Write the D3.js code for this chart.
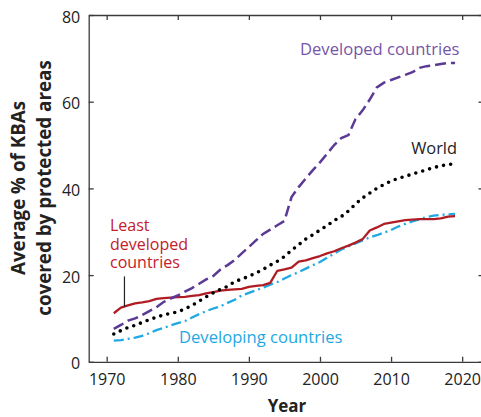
<!DOCTYPE html>
<html>
<head>
<meta charset="utf-8">
<script src="https://cdn.jsdelivr.net/npm/d3@7"></script>
<style>
  html, body { margin: 0; padding: 0; background: #fff; }
  svg { display: block; font-family: "Open Sans", sans-serif; }
</style>
</head>
<body>
<svg id="chart" width="481" height="417"></svg>
<script>
const years = d3.range(1971, 2020);

const developed = [7.6, 8.5, 9.5, 10.0, 10.8, 11.7, 12.6, 13.8, 14.6, 15.3,
  16.2, 17.0, 18.0, 19.0, 19.8, 21.3, 22.3, 23.5, 25.0, 26.5,
  28.0, 29.5, 30.5, 31.5, 32.5, 38.0, 40.3, 42.3, 44.2, 46.0,
  48.0, 50.0, 51.6, 52.3, 56.0, 58.0, 60.5, 63.3, 64.4, 65.0,
  65.6, 66.2, 66.8, 67.8, 68.2, 68.4, 68.7, 68.9, 68.9];

const world = [6.4, 7.2, 7.9, 8.4, 9.1, 9.7, 10.3, 10.8, 11.2, 11.5,
  12.2, 13.0, 14.0, 15.0, 15.9, 16.7, 17.4, 18.5, 19.1, 19.7,
  20.5, 21.3, 22.3, 23.2, 24.3, 25.7, 27.0, 28.3, 29.3, 30.4,
  31.4, 32.6, 33.5, 34.8, 36.4, 37.8, 38.9, 40.0, 40.9, 41.7,
  42.3, 42.8, 43.3, 43.8, 44.3, 44.8, 45.2, 45.5, 45.7];

const leastDeveloped = [11.2, 12.5, 13.0, 13.5, 13.7, 14.0, 14.5, 14.7, 14.8, 14.9,
  15.0, 15.2, 15.4, 15.8, 16.1, 16.4, 16.6, 16.7, 16.8, 17.3,
  17.5, 17.7, 18.2, 21.0, 21.3, 21.7, 23.1, 23.4, 23.9, 24.4,
  25.0, 25.5, 26.2, 26.8, 27.5, 28.3, 30.3, 31.0, 31.8, 32.1,
  32.4, 32.7, 32.8, 32.9, 32.9, 32.9, 33.1, 33.5, 33.6];

const developing = [4.9, 5.0, 5.3, 5.6, 6.0, 6.6, 7.3, 7.8, 8.4, 8.9,
  9.4, 10.2, 11.0, 11.7, 12.3, 12.8, 13.6, 14.3, 15.3, 15.9,
  16.5, 17.1, 17.8, 18.4, 19.2, 20.0, 20.7, 21.5, 22.3, 23.0,
  24.0, 25.0, 25.9, 26.6, 27.3, 28.0, 28.7, 29.2, 29.8, 30.4,
  31.2, 31.8, 32.4, 32.9, 33.4, 33.7, 33.9, 34.0, 34.1];

const xTicks = [1970, 1980, 1990, 2000, 2010, 2020];
const yTicks = [0, 20, 40, 60, 80];

const svg = d3.select("#chart");
const plotLeft = 88.7, plotRight = 483.5, plotTop = 15, plotBottom = 361.8;

const x = d3.scaleLinear().domain([1967.47, 2023]).range([plotLeft, plotRight]);
const y = d3.scaleLinear().domain([0, 80]).range([plotBottom, plotTop]);

const axisColor = "#3a3a3a";

function styleAxis(g) {
  g.selectAll("path.domain").attr("stroke", axisColor).attr("stroke-width", 1.3);
  g.selectAll(".tick line").attr("stroke", axisColor).attr("stroke-width", 1.3);
  g.selectAll(".tick text").attr("fill", "#222").attr("font-size", 16)
    .attr("font-family", "'Open Sans', sans-serif");
}

svg.append("g").attr("transform", `translate(0,${plotBottom})`)
  .call(d3.axisBottom(x).tickValues(xTicks).tickFormat(d3.format("d"))
    .tickSizeInner(-5).tickSizeOuter(0).tickPadding(11.6))
  .call(styleAxis);

svg.append("g").attr("transform", `translate(0,${plotTop})`)
  .call(d3.axisTop(x).tickValues(xTicks).tickFormat("")
    .tickSizeInner(-5).tickSizeOuter(0))
  .call(styleAxis);

const gl = svg.append("g").attr("transform", `translate(${plotLeft},0)`)
  .call(d3.axisLeft(y).tickValues(yTicks).tickFormat(d3.format("d"))
    .tickSizeInner(-5).tickSizeOuter(0).tickPadding(8.5))
  .call(styleAxis);
gl.selectAll(".tick text").attr("dy", "0.44em");

svg.append("g").attr("transform", `translate(${plotRight},0)`)
  .call(d3.axisRight(y).tickValues(yTicks).tickFormat("")
    .tickSizeInner(-5).tickSizeOuter(0))
  .call(styleAxis);

const line = d3.line().x((d, i) => x(years[i])).y(d => y(d));

svg.append("path").datum(developing).attr("d", line)
  .attr("fill", "none").attr("stroke", "#1ea8e4").attr("stroke-width", 2.3)
  .attr("stroke-dasharray", "10,4,2,4");

svg.append("path").datum(leastDeveloped).attr("d", line)
  .attr("fill", "none").attr("stroke", "#b01c24").attr("stroke-width", 2.3)
  .attr("stroke-linejoin", "round");

svg.append("path").datum(world).attr("d", line)
  .attr("fill", "none").attr("stroke", "#000").attr("stroke-width", 3.6)
  .attr("stroke-linecap", "round").attr("stroke-dasharray", "0,7.2");

svg.append("path").datum(developed).attr("d", line)
  .attr("fill", "none").attr("stroke", "#5a3a94").attr("stroke-width", 2.5)
  .attr("stroke-dasharray", "11,5");

// leader line for least developed label
svg.append("line")
  .attr("x1", x(1972.5)).attr("x2", x(1972.5))
  .attr("y1", y(19.7)).attr("y2", y(12.7))
  .attr("stroke", "#222").attr("stroke-width", 1.2);

// series labels
svg.append("text").attr("x", 300).attr("y", 55)
  .attr("font-size", 16.6).attr("fill", "#7556a8").text("Developed countries");

svg.append("text").attr("x", 457).attr("y", 154).attr("text-anchor", "end")
  .attr("font-size", 16.4).attr("fill", "#222").text("World");

const ld = svg.append("text").attr("x", 110).attr("font-size", 16).attr("fill", "#c2202a");
["Least", "developed", "countries"].forEach((t, i) => {
  ld.append("tspan").attr("x", 110).attr("y", 231 + i * 18.7).text(t);
});

svg.append("text").attr("x", 179).attr("y", 343)
  .attr("font-size", 16.6).attr("fill", "#1ea8e4").text("Developing countries");

// axis titles
svg.append("text").attr("x", 287).attr("y", 412).attr("text-anchor", "middle")
  .attr("font-size", 17).attr("font-weight", "bold").attr("fill", "#222").text("Year");

const yt = svg.append("text").attr("transform", "translate(0,188) rotate(-90)")
  .attr("text-anchor", "middle").attr("font-size", 18.8).attr("font-weight", "bold").attr("fill", "#222");
yt.append("tspan").attr("x", 0).attr("y", 25).text("Average % of KBAs");
yt.append("tspan").attr("x", 0).attr("y", 51).text("covered  by protected areas");
</script>
</body>
</html>
